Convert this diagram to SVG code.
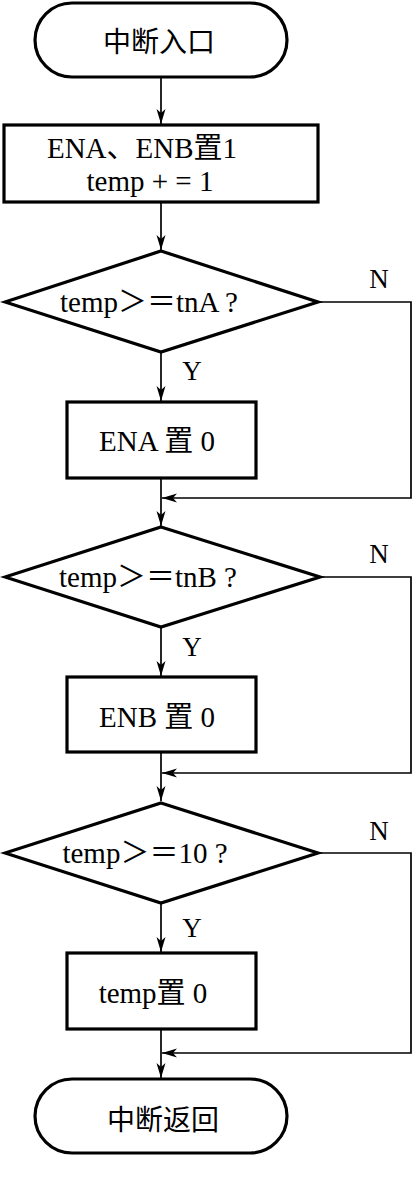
<svg xmlns="http://www.w3.org/2000/svg" width="413" height="1184" viewBox="0 0 413 1184">
<style>
.shape{fill:#fff;stroke:#000;stroke-width:3.2}
.conn{fill:none;stroke:#000;stroke-width:1.7}
.t{font-family:"Liberation Serif","Noto Sans CJK SC",serif;font-size:29px;fill:#000;text-anchor:middle}
.cjk{font-family:"Noto Sans CJK SC",sans-serif;font-size:28px;fill:#000;text-anchor:middle}
.lbl{font-family:"Liberation Serif",serif;font-size:27px;fill:#000;text-anchor:middle}
</style>
<defs>
<marker id="ah" markerUnits="userSpaceOnUse" markerWidth="20" markerHeight="12" viewBox="-16 -6 18 12" refX="0" refY="0" orient="auto">
<path d="M0,0 L-15,-4.5 L-11,0 L-15,4.5 Z" fill="#000"/>
</marker>
</defs>
<rect width="413" height="1184" fill="#fff"/>
<g id="connectors">
<path class="conn" d="M161,77 V124" marker-end="url(#ah)"/>
<path class="conn" d="M161,202 V250" marker-end="url(#ah)"/>
<path class="conn" d="M161,352 V401" marker-end="url(#ah)"/>
<path class="conn" d="M161,478 V526" marker-end="url(#ah)"/>
<path class="conn" d="M318,302 H411 V498 H162" marker-end="url(#ah)"/>
<path class="conn" d="M161,627 V676" marker-end="url(#ah)"/>
<path class="conn" d="M161,752 V801" marker-end="url(#ah)"/>
<path class="conn" d="M320,577 H411 V773 H162" marker-end="url(#ah)"/>
<path class="conn" d="M161,903 V952" marker-end="url(#ah)"/>
<path class="conn" d="M161,1029 V1078" marker-end="url(#ah)"/>
<path class="conn" d="M318,853 H411 V1053 H162" marker-end="url(#ah)"/>
<text class="lbl" x="379" y="288">N</text>
<text class="lbl" x="192" y="380">Y</text>
<text class="lbl" x="379" y="563">N</text>
<text class="lbl" x="192" y="656">Y</text>
<text class="lbl" x="379" y="840">N</text>
<text class="lbl" x="192" y="937">Y</text>
</g>
<g id="start">
<rect class="shape" x="35" y="3" width="252" height="74" rx="37" ry="37"/>
<text class="cjk" x="159" y="52">中断入口</text>
</g>
<g id="init">
<rect class="shape" x="4" y="125" width="314" height="77"/>
<text class="t" x="142" y="158">ENA、ENB置1</text>
<text class="t" x="150" y="191">temp + = 1</text>
</g>
<g id="decA">
<polygon class="shape" points="161,251 318,302 161,352 5,302"/>
<text class="t" x="149" y="312">temp＞＝tnA ?</text>
</g>
<g id="setA">
<rect class="shape" x="67" y="402" width="189" height="76"/>
<text class="t" x="157" y="451">ENA 置 0</text>
</g>
<g id="decB">
<polygon class="shape" points="161,527 320,577 161,627 5,577"/>
<text class="t" x="148" y="587">temp＞＝tnB ?</text>
</g>
<g id="setB">
<rect class="shape" x="67" y="677" width="189" height="75"/>
<text class="t" x="157" y="727">ENB 置 0</text>
</g>
<g id="dec10">
<polygon class="shape" points="161,803 318,853 161,903 5,853"/>
<text class="t" x="145" y="863">temp＞＝10 ?</text>
</g>
<g id="reset">
<rect class="shape" x="67" y="953" width="189" height="76"/>
<text class="t" x="153" y="1003">temp置 0</text>
</g>
<g id="end">
<rect class="shape" x="35" y="1079" width="252" height="74" rx="37" ry="37"/>
<text class="cjk" x="163" y="1130">中断返回</text>
</g>
</svg>
